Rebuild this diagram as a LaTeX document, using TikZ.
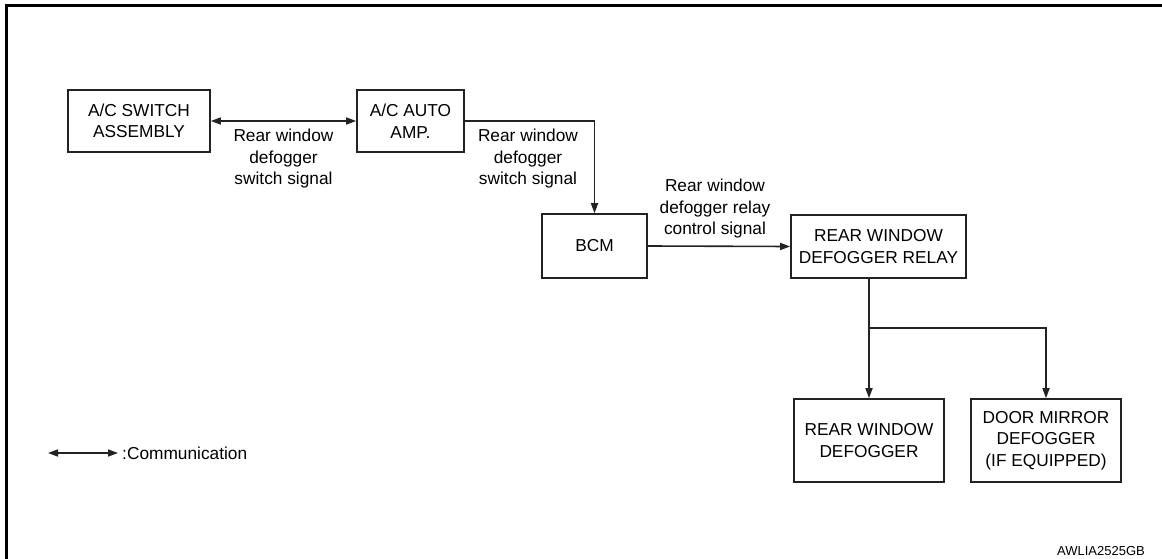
\documentclass[tikz,border=0pt]{standalone}
\usepackage{fontspec}
\setmainfont{Liberation Sans}
\usetikzlibrary{arrows.meta}
\definecolor{ink}{RGB}{35,35,35}
\begin{document}
\begin{tikzpicture}[x=1pt,y=-1pt,
  font=\fontsize{17.3}{21.5}\selectfont,
  box/.style={draw=ink, line width=1.6pt, align=center, inner sep=0pt},
  lbl/.style={align=center, inner sep=0pt},
  conn/.style={draw=ink, line width=1.6pt},
  tip/.style={-{Triangle[length=10pt,width=7pt]}},
  twotip/.style={{Triangle[length=10pt,width=7pt]}-{Triangle[length=10pt,width=7pt]}}]
\useasboundingbox (0,0) rectangle (1162,559);
% frame
\draw[line width=3.4pt] (6.5,559) -- (6.5,5.5) -- (1162,5.5);
% boxes
\node[box, minimum width=142pt, minimum height=62pt] (sw) at (139,121) {A/C SWITCH\\ASSEMBLY};
\node[box, minimum width=107pt, minimum height=62pt] (amp) at (410.5,121) {A/C AUTO\\AMP.};
\node[box, minimum width=105pt, minimum height=64pt] (bcm) at (594.5,246) {BCM};
\node[box, minimum width=175pt, minimum height=63pt] (relay) at (878.5,246.5) {REAR WINDOW\\DEFOGGER RELAY};
\node[box, minimum width=150pt, minimum height=83pt] (rwd) at (869,440.5) {REAR WINDOW\\DEFOGGER};
\node[box, minimum width=150pt, minimum height=83pt] (dmd) at (1046,440.5) {DOOR MIRROR\\DEFOGGER\\(IF EQUIPPED)};
% labels
\node[lbl] (l1) at (283.5,159) {Rear window\\defogger\\switch signal};
\node[lbl] (l2) at (528,159) {Rear window\\defogger\\switch signal};
\node[lbl] (l3) at (715,209) {Rear window\\defogger relay\\control signal};
% connectors
\draw[conn, twotip] (sw.east) -- (amp.west);
\draw[conn, tip] (amp.east) -| (bcm.north);
\draw[conn, tip] (bcm.east) -- (relay.west);
\coordinate (j) at (869,328);
\draw[conn] (relay.south -| j) -- (j);
\draw[conn, tip] (j) -- (rwd.north);
\draw[conn, tip] (j) -| (dmd.north);
% legend
\coordinate (la) at (48,453);
\coordinate (lb) at (118,453);
\draw[conn, twotip] (la) -- (lb);
\node[lbl, anchor=west] (lt) at (122,453) {:Communication};
\node[lbl, anchor=base east, font=\fontsize{13}{15}\selectfont] (code) at (1145,555) {AWLIA2525GB};
\end{tikzpicture}
\end{document}
